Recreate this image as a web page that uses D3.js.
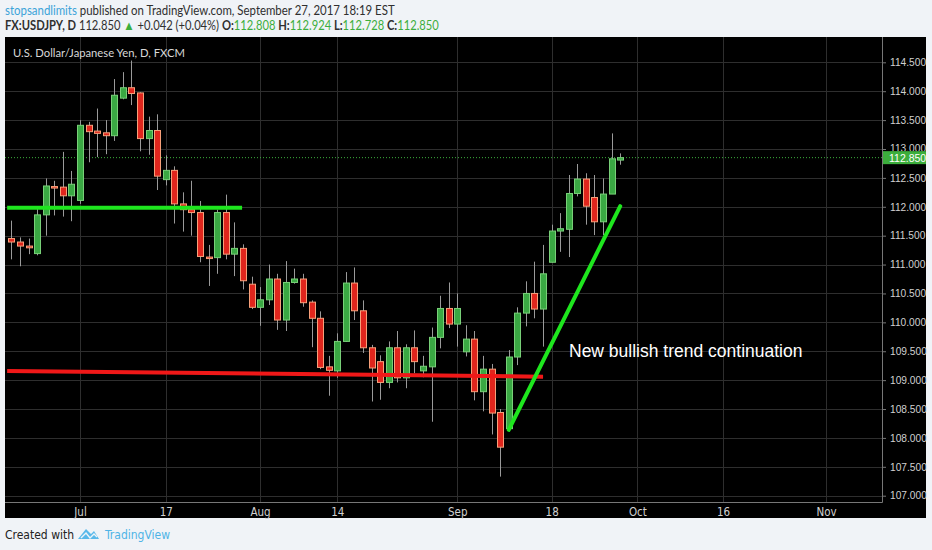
<!DOCTYPE html>
<html><head><meta charset="utf-8">
<script src="https://cdn.jsdelivr.net/npm/d3@7"></script>
<style>
html,body{margin:0;padding:0;background:#f0f3f7;}
svg{display:block;}
</style></head>
<body>
<svg id="c" width="932" height="550"></svg>
<script>
// ---- data ----
const dates = ["2017-06-21","2017-06-22","2017-06-23","2017-06-26","2017-06-27","2017-06-28","2017-06-29","2017-06-30",
"2017-07-03","2017-07-04","2017-07-05","2017-07-06","2017-07-07","2017-07-10","2017-07-11","2017-07-12","2017-07-13","2017-07-14",
"2017-07-17","2017-07-18","2017-07-19","2017-07-20","2017-07-21","2017-07-24","2017-07-25","2017-07-26","2017-07-27","2017-07-28",
"2017-07-31","2017-08-01","2017-08-02","2017-08-03","2017-08-04","2017-08-07","2017-08-08","2017-08-09","2017-08-10","2017-08-11",
"2017-08-14","2017-08-15","2017-08-16","2017-08-17","2017-08-18","2017-08-21","2017-08-22","2017-08-23","2017-08-24","2017-08-25",
"2017-08-28","2017-08-29","2017-08-30","2017-08-31","2017-09-01","2017-09-04","2017-09-05","2017-09-06","2017-09-07","2017-09-08",
"2017-09-11","2017-09-12","2017-09-13","2017-09-14","2017-09-15","2017-09-18","2017-09-19","2017-09-20","2017-09-21","2017-09-22",
"2017-09-25","2017-09-26","2017-09-27","2017-09-28"];
const open  = [111.45,111.39,111.32,111.19,111.86,112.35,112.34,112.19,
112.11,113.41,113.31,113.28,113.23,113.88,114.06,113.97,113.18,113.32,
112.47,112.63,112.05,111.95,111.90,111.13,111.12,111.90,111.18,111.28,
110.66,110.26,110.39,110.75,110.04,110.69,110.75,110.35,110.07,109.23,
109.16,109.67,110.68,110.20,109.56,109.32,108.96,109.56,109.04,109.56,
109.16,109.23,109.74,110.24,109.97,109.49,109.71,108.80,109.19,108.44,
108.16,109.40,110.16,110.50,110.23,111.04,111.58,111.61,112.23,112.48,
112.16,111.74,112.22,112.808];
const high  = [111.76,111.47,111.45,111.96,112.49,112.45,112.95,112.62,
113.50,113.47,113.70,113.50,114.21,114.33,114.53,113.98,113.56,113.60,
112.89,112.70,112.25,112.45,112.10,111.34,111.95,112.21,111.73,111.35,
110.79,110.61,111.00,110.84,111.06,110.93,110.84,110.38,110.19,109.42,
109.81,110.87,110.95,110.38,109.61,109.43,109.67,109.85,109.62,109.86,
109.42,109.91,110.46,110.69,110.50,109.95,109.85,109.42,109.28,108.50,
109.52,110.26,110.71,111.05,111.34,111.69,111.89,112.55,112.74,112.58,
112.55,112.49,113.27,112.924];
const low   = [111.09,110.97,111.18,111.16,111.50,111.85,111.83,111.75,
112.05,112.77,112.86,112.91,113.14,113.86,113.76,112.96,112.90,112.29,
112.37,111.71,111.57,111.50,111.04,110.63,110.84,111.09,110.80,110.57,
110.23,109.94,110.30,109.87,109.85,110.67,110.27,109.57,109.19,108.73,
109.04,109.66,110.04,109.47,108.63,108.66,108.86,108.96,108.86,109.12,
109.05,108.28,109.55,109.90,109.58,109.41,108.65,108.46,108.06,107.33,
108.11,109.26,109.93,110.07,109.58,111.04,111.22,111.13,112.18,111.69,
111.51,111.51,112.22,112.728];
const close = [111.39,111.32,111.29,111.86,112.36,112.33,112.19,112.39,
113.41,113.30,113.27,113.23,113.93,114.06,113.96,113.18,113.32,112.53,
112.63,112.05,111.95,111.90,111.14,111.12,111.90,111.18,111.28,110.72,
110.26,110.39,110.75,110.04,110.69,110.75,110.34,110.07,109.22,109.17,
109.67,110.68,110.20,109.56,109.21,108.96,109.56,109.04,109.56,109.32,
109.24,109.74,110.24,109.97,110.24,109.71,108.80,109.19,108.43,107.84,
109.40,110.16,110.50,110.23,110.84,111.58,111.62,112.23,112.48,112.01,
111.74,112.22,112.83,112.850];

const priceTicks = [107,107.5,108,108.5,109,109.5,110,110.5,111,111.5,112,112.5,113,113.5,114,114.5];
const dateTickDates  = ["2017-07-03","2017-07-17","2017-08-01","2017-08-14","2017-09-01","2017-09-18","2017-10-02","2017-10-16","2017-11-01"];
const dateTickLabels = ["Jul","17","Aug","14","Sep","18","Oct","16","Nov"];
const lastPrice = 112.850;

// annotation lines (date, price, bar offset)
const supportLine    = [["2017-06-21",111.985,-0.5],["2017-07-26",111.985,1.9]];
const horizontalLine = [["2017-06-21",109.16,-0.5],["2017-09-15",109.06,0]];
const trendLine      = [["2017-09-11",108.14,0],["2017-09-28",112.01,0]];
const annotationText = "New bullish trend continuation";

// ---- layout ----
const svg = d3.select("#c");
const plot = {l:5, r:882, t:37, b:502};

const parse = d3.utcParse("%Y-%m-%d");
const fmt = d3.utcFormat("%Y-%m-%d");
const allDays = d3.utcDay.range(parse("2017-06-21"), parse("2017-11-20"))
  .filter(d => d.getUTCDay() !== 0 && d.getUTCDay() !== 6).map(fmt);
const dayIndex = new Map(allDays.map((d,i)=>[d,i]));
const x = d3.scaleLinear().domain([-0.75, 101.53]).range([plot.l, plot.r]);
const X = (ds, off=0) => x(dayIndex.get(ds) + off);
const y = d3.scaleLinear().domain([106.891, 114.938]).range([plot.b, plot.t]);

// header: natural text, horizontally condensed to the reference width with a transform
const hf = "Lato, 'Open Sans', sans-serif";
function fitText(sel, x0, y0, w){
  const len = sel.node().getComputedTextLength();
  sel.attr("transform",`translate(${x0},${y0}) scale(${w/len},1)`);
}
const t1 = svg.append("text").attr("font-family",hf).attr("font-size",12.6).attr("fill","#2f2f2f");
t1.append("tspan").attr("fill","#3ca3d9").text("stopsandlimits");
t1.append("tspan").text(" published on TradingView.com, September 27, 2017 18:19 EST");
fitText(t1, 5, 15, 390);
const t2 = svg.append("text").attr("font-family",hf).attr("font-size",12.6).attr("fill","#2f2f2f");
t2.append("tspan").attr("font-weight","bold").text("FX:USDJPY, D");
t2.append("tspan").text(" 112.850 ");
t2.append("tspan").attr("fill","#3cae3c").attr("font-size",13).text("▲");
t2.append("tspan").text(" +0.042 (+0.04%) ");
[["O:","112.808"],["H:","112.924"],["L:","112.728"],["C:","112.850"]].forEach(([k,v],i)=>{
  t2.append("tspan").attr("font-weight","bold").text((i?" ":"")+k);
  t2.append("tspan").attr("fill","#3cae3c").text(v);
});
fitText(t2, 5, 30, 434);

// panel
svg.append("rect").attr("x",5).attr("y",37).attr("width",921).attr("height",481).attr("fill","#000");

// grid
const g = svg.append("g");
g.selectAll(".hg").data(priceTicks).enter().append("line")
  .attr("x1",plot.l).attr("x2",plot.r).attr("y1",d=>Math.round(y(d))+0.5).attr("y2",d=>Math.round(y(d))+0.5)
  .attr("stroke","#2e2e2e").attr("stroke-width",1);
g.selectAll(".vg").data(dateTickDates).enter().append("line")
  .attr("y1",plot.t).attr("y2",plot.b).attr("x1",d=>Math.round(X(d))+0.5).attr("x2",d=>Math.round(X(d))+0.5)
  .attr("stroke","#2e2e2e").attr("stroke-width",1);

// title
const tt = svg.append("text").attr("font-family",hf)
  .attr("font-size",12.2).attr("fill","#d8d8d8").text("U.S. Dollar/Japanese Yen, D, FXCM");
fitText(tt, 13, 57, 172);

// price line
svg.append("line").attr("x1",plot.l).attr("x2",plot.r).attr("y1",y(lastPrice)).attr("y2",y(lastPrice))
  .attr("stroke","#3cae3c").attr("stroke-width",1).attr("stroke-dasharray","1,2");

// candles
const bars = dates.map((d,i)=>({d, o:open[i], h:high[i], l:low[i], c:close[i]}));
const cg = svg.append("g");
cg.selectAll(".w").data(bars).enter().append("line")
  .attr("x1",b=>Math.round(X(b.d))+0.5).attr("x2",b=>Math.round(X(b.d))+0.5)
  .attr("y1",b=>y(b.h)).attr("y2",b=>y(b.l)).attr("stroke","#9a9a9a").attr("stroke-width",1);
cg.selectAll(".b").data(bars).enter().append("rect")
  .attr("x",b=>Math.round(X(b.d))-2.5).attr("width",6)
  .attr("y",b=>y(Math.max(b.o,b.c)))
  .attr("height",b=>Math.max(1.5, y(Math.min(b.o,b.c))-y(Math.max(b.o,b.c))))
  .attr("fill",b=>b.c>=b.o?"#3aa843":"#e0261d")
  .attr("stroke",b=>b.c>=b.o?"#78d078":"#f7a07a").attr("stroke-width",1);

// annotation lines
const line = d3.line().x(p=>X(p[0],p[2])).y(p=>y(p[1]));
svg.append("path").attr("d",line(supportLine)).attr("stroke","#1ee61e").attr("stroke-width",4).attr("fill","none");
svg.append("path").attr("d",line(horizontalLine)).attr("stroke","#f01818").attr("stroke-width",4).attr("fill","none");
svg.append("path").attr("d",line(trendLine)).attr("stroke","#1ee61e").attr("stroke-width",4).attr("fill","none").attr("stroke-linecap","round");
svg.append("text").attr("x",569).attr("y",357).attr("font-family","'Liberation Sans',Arial,sans-serif")
  .attr("font-size",17.5).attr("fill","#ffffff").text(annotationText);

// axes lines
svg.append("line").attr("x1",plot.r+0.5).attr("x2",plot.r+0.5).attr("y1",plot.t).attr("y2",plot.b+0.5).attr("stroke","#777");
svg.append("line").attr("x1",plot.l).attr("x2",plot.r+0.5).attr("y1",plot.b+0.5).attr("y2",plot.b+0.5).attr("stroke","#777");

// price axis
const ya = svg.append("g").attr("transform",`translate(${plot.r},0)`)
  .call(d3.axisRight(y).tickValues(priceTicks.filter(d=>d!==113)).tickFormat(d3.format(".3f")).tickSize(4).tickPadding(4));
ya.select(".domain").remove();
ya.selectAll("line").attr("stroke","#777");
ya.selectAll("text").attr("fill","#d0d0d0").attr("font-family","'Liberation Sans',Arial,sans-serif").attr("font-size",10.2);
// 113.000 is partly hidden behind the last-price label (clip its lower part)
svg.append("clipPath").attr("id","cl113").append("rect").attr("x",plot.r).attr("y",y(113)-8).attr("width",50).attr("height",y(lastPrice)-6.5-(y(113)-8));
svg.append("line").attr("x1",plot.r).attr("x2",plot.r+4).attr("y1",Math.round(y(113))+0.5).attr("y2",Math.round(y(113))+0.5).attr("stroke","#777");
svg.append("text").attr("x",plot.r+8).attr("y",y(113)+3).attr("font-family","'Liberation Sans',Arial,sans-serif")
  .attr("clip-path","url(#cl113)").attr("font-size",10.2).attr("fill","#d0d0d0").text(d3.format(".3f")(113));

// last price label
svg.append("rect").attr("x",plot.r+1).attr("y",y(lastPrice)-6.5).attr("width",43).attr("height",13).attr("fill","#3cae3c");
svg.append("text").attr("x",plot.r+7).attr("y",y(lastPrice)+4).attr("font-family","'Liberation Sans',Arial,sans-serif")
  .attr("font-size",10.5).attr("fill","#fff").text(d3.format(".3f")(lastPrice));

// date axis
const xa = svg.append("g").attr("transform",`translate(0,${plot.b})`)
  .call(d3.axisBottom(x).tickValues(dateTickDates.map(d=>dayIndex.get(d)))
    .tickFormat((d,i)=>dateTickLabels[i]).tickSize(0).tickPadding(6));
xa.select(".domain").remove();
xa.selectAll("text").attr("fill","#d0d0d0").attr("font-family","'Liberation Sans Narrow','DejaVu Sans Condensed',sans-serif").attr("font-size",11.5);

// footer
const f = svg.append("g");
f.append("text").attr("x",5).attr("y",539).attr("font-family","'Liberation Sans Narrow','DejaVu Sans Condensed',sans-serif")
  .attr("font-size",12).attr("fill","#222").text("Created with");
f.append("path").attr("d","M78,539 L86,529 L91,534 L94,531 L99,539 Z").attr("fill","#5ab9ea");
f.append("path").attr("d","M81,538 L86,533 L90,538 L94,534 L97,537").attr("fill","none").attr("stroke","#f0f3f7").attr("stroke-width",1.4);
f.append("text").attr("x",105).attr("y",539).attr("font-family","'Liberation Sans Narrow','DejaVu Sans Condensed',sans-serif")
  .attr("font-size",12).attr("fill","#4fb3e6").text("TradingView");
</script>
</body></html>
